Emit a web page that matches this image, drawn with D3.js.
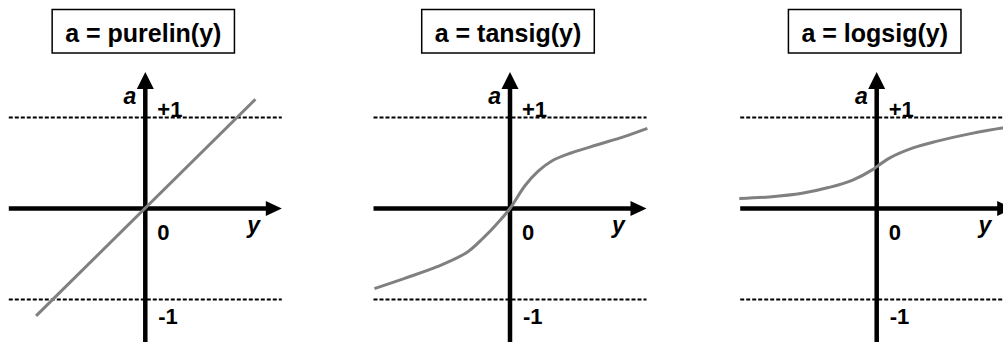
<!DOCTYPE html>
<html>
<head>
<meta charset="utf-8">
<script src="https://cdn.jsdelivr.net/npm/d3@7"></script>
<style>
  html, body { margin: 0; padding: 0; background: #fff; }
  svg { display: block; }
  text { font-family: Arial, "Liberation Sans", sans-serif; font-weight: bold; fill: #000; }
</style>
</head>
<body>
<div id="chart"></div>
<script>
// --- Data ---
const titles = ["a = purelin(y)", "a = tansig(y)", "a = logsig(y)"];
const tickLabels = ["+1", "0", "-1"];
const axisLabels = ["a", "y"];

// curve points [y, a]
const purelinPts = [[-1.2, -1.18], [1.21, 1.2]];
const tansigPts = [
    [-1.49, -0.88], [-1.165, -0.77], [-0.8, -0.64], [-0.47, -0.48], [-0.29, -0.32],
    [-0.145, -0.17], [0, 0], [0.164, 0.25], [0.31, 0.41], [0.455, 0.52],
    [0.67, 0.61], [0.96, 0.7], [1.255, 0.79], [1.51, 0.88]
];
const logsigPts = [
    [-1.51, 0.11], [-1.18, 0.127], [-0.82, 0.167], [-0.53, 0.23], [-0.27, 0.31],
    [-0.04, 0.43], [0, 0.46], [0.145, 0.557], [0.4, 0.666], [0.655, 0.738],
    [1.02, 0.82], [1.38, 0.884], [1.52, 0.9]
];
const series = [purelinPts, tansigPts, logsigPts];

// --- Layout ---
const W = 1003, H = 342;
const panelCenters = [145.3, 510, 876.7];
const unit = 91;

const svg = d3.select("#chart").append("svg")
    .attr("width", W)
    .attr("height", H);

const y = d3.scaleLinear().domain([-1, 1]).range([208.5 + unit, 208.5 - unit]);

const line = d3.line().curve(d3.curveCatmullRom.alpha(0.5));

series.forEach((pts, i) => {
    const cx = panelCenters[i];
    const x = d3.scaleLinear().domain([-1.5, 1.5]).range([cx - 1.5 * unit, cx + 1.5 * unit]);
    const g = svg.append("g");

    // title box
    const title = g.append("text")
        .attr("x", cx - 2)
        .attr("y", 42)
        .attr("text-anchor", "middle")
        .style("font-size", "25px")
        .text(titles[i]);
    const bb = title.node().getBBox();
    g.insert("rect", "text")
        .attr("x", bb.x - 13)
        .attr("y", 9.5)
        .attr("width", bb.width + 26)
        .attr("height", 43.5)
        .attr("fill", "#fff")
        .attr("stroke", "#000")
        .attr("stroke-width", 1.5);

    // dashed +1 / -1 lines
    [1, -1].forEach(v => {
        g.append("line")
            .attr("x1", x(-1.5)).attr("x2", x(1.5))
            .attr("y1", y(v)).attr("y2", y(v))
            .attr("stroke", "#000")
            .attr("stroke-width", 2)
            .attr("stroke-dasharray", "4,2");
    });

    // horizontal axis with arrow
    const tipX = x(1.5), baseX = tipX - 16;
    g.append("line")
        .attr("x1", x(-1.5)).attr("x2", baseX + 1)
        .attr("y1", y(0)).attr("y2", y(0))
        .attr("stroke", "#000").attr("stroke-width", 4.5);
    g.append("path")
        .attr("d", `M${tipX},${y(0)}L${baseX},${y(0) - 7.5}L${baseX},${y(0) + 7.5}Z`)
        .attr("fill", "#000");

    // vertical axis with arrow
    const tipY = y(1.5), baseY = tipY + 17;
    g.append("line")
        .attr("x1", x(0)).attr("x2", x(0))
        .attr("y1", y(-1.6)).attr("y2", baseY - 1)
        .attr("stroke", "#000").attr("stroke-width", 4.5);
    g.append("path")
        .attr("d", `M${x(0)},${tipY}L${x(0) - 8.5},${baseY}L${x(0) + 8.5},${baseY}Z`)
        .attr("fill", "#000");

    // labels
    g.append("text")
        .attr("x", x(0) - 9).attr("y", y(1.15))
        .attr("text-anchor", "end")
        .style("font-size", "23px").style("font-style", "italic")
        .text(axisLabels[0]);
    g.append("text")
        .attr("x", x(1.12)).attr("y", y(-0.27))
        .style("font-size", "23px").style("font-style", "italic")
        .text(axisLabels[1]);
    g.append("text")
        .attr("x", x(0) + 12).attr("y", y(1) - 1)
        .style("font-size", "22px")
        .text(tickLabels[0]);
    g.append("text")
        .attr("x", x(0) + 12).attr("y", y(-0.35))
        .style("font-size", "22px")
        .text(tickLabels[1]);
    g.append("text")
        .attr("x", x(0) + 13).attr("y", y(-1.27))
        .style("font-size", "22px")
        .text(tickLabels[2]);

    // transfer function curve
    g.append("path")
        .attr("d", line(pts.map(d => [x(d[0]), y(d[1])])))
        .attr("fill", "none")
        .attr("stroke", "#808080")
        .attr("stroke-width", 3);
});
</script>
</body>
</html>
